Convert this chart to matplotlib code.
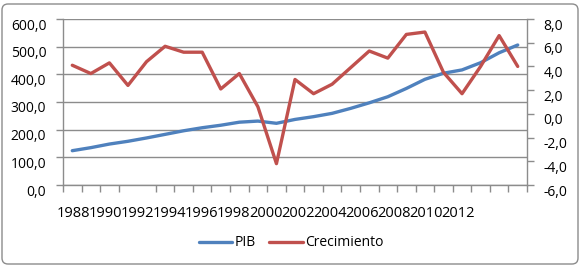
import matplotlib
matplotlib.use("Agg")
import matplotlib.pyplot as plt
import matplotlib.transforms as mtransforms
from matplotlib.patches import FancyBboxPatch
from matplotlib.ticker import FixedLocator, NullFormatter

years = list(range(1988, 2013))
pib = [124, 135, 148, 158, 170, 183, 196, 207, 216, 227, 231, 223, 237,
       247, 259, 277, 297, 319, 349, 382, 404, 416, 442, 478, 506]
crecimiento = [4.1, 3.4, 4.3, 2.4, 4.4, 5.7, 5.2, 5.2, 2.1, 3.4, 0.6, -4.2, 2.9,
               1.7, 2.5, 3.9, 5.3, 4.7, 6.7, 6.9, 3.5, 1.7, 4.0, 6.6, 4.0]
year_labels = [str(y) for y in years[::2]]
left_ticks = [0, 100, 200, 300, 400, 500, 600]
right_ticks = [-6, -4, -2, 0, 2, 4, 6, 8]

BLUE = "#4F81BD"
RED = "#C0504D"
GRID = "#8C8C8C"
FONT = "Open Sans"

plt.rcParams["font.family"] = [FONT, "DejaVu Sans"]
plt.rcParams["font.size"] = 10

W, H = 580, 268
fig = plt.figure(figsize=(W / 100, H / 100), dpi=100)
fig.patch.set_facecolor("white")

# outer rounded border
border = FancyBboxPatch((0.02, 0.04), 5.76, 2.60,
                        boxstyle="round,pad=0,rounding_size=0.06",
                        transform=fig.dpi_scale_trans, facecolor="none",
                        edgecolor="#8C8C8C", linewidth=1.0)
fig.patches.append(border)

ax = fig.add_axes([63 / W, 1 - 185 / H, 464 / W, 166 / H])
ax2 = ax.twinx()

x = list(range(len(years)))
l1, = ax.plot(x, pib, color=BLUE, linewidth=2.4, solid_capstyle="round",
              solid_joinstyle="round", label="PIB", zorder=3)
l2, = ax2.plot(x, crecimiento, color=RED, linewidth=2.4, solid_capstyle="round",
               solid_joinstyle="round", label="Crecimiento", zorder=4)

ax.set_xlim(-0.5, len(years) - 0.5)
ax.set_ylim(0, 600)
ax2.set_ylim(-6, 8)

ax.set_yticks(left_ticks)
ax.set_yticklabels([f"{v:.1f}".replace(".", ",") for v in left_ticks])
ax2.set_yticks(right_ticks)
ax2.set_yticklabels([f"{v:.1f}".replace(".", ",") for v in right_ticks])

# category boundary tick marks
ax.xaxis.set_minor_locator(FixedLocator([i - 0.5 for i in range(len(years) + 1)]))
ax.xaxis.set_minor_formatter(NullFormatter())
# year labels (packed as in the reference rendering)
label_step = 1.73
ax.set_xticks([0.04 + label_step * k for k in range(len(year_labels))])
ax.set_xticklabels(year_labels)
ax.tick_params(axis="x", which="major", length=0, pad=15, labelsize=10.5)
ax.tick_params(axis="x", which="minor", length=5, width=1, color=GRID, direction="out")

ax.tick_params(axis="y", length=5, width=1, color=GRID, pad=7, labelsize=10)
ax2.tick_params(axis="y", length=5, width=1, color=GRID, pad=7, labelsize=10)

ax.grid(axis="y", color=GRID, linewidth=1.0)
ax.set_axisbelow(True)

for a in (ax, ax2):
    for s in a.spines.values():
        s.set_color(GRID)
        s.set_linewidth(1.0)
    a.spines["top"].set_visible(False)
ax2.spines["bottom"].set_visible(False)
ax2.spines["left"].set_visible(False)
ax.spines["right"].set_visible(False)
ax2.spines["right"].set_color(GRID)

# shift y labels slightly down as in reference
off = mtransforms.ScaledTranslation(0, -5 / 100, fig.dpi_scale_trans)
for lab in ax.get_yticklabels() + ax2.get_yticklabels():
    lab.set_transform(lab.get_transform() + off)

fig.legend(handles=[l1, l2], labels=["PIB", "Crecimiento"],
           loc="center", bbox_to_anchor=(291 / W, 1 - 243 / H), ncol=2,
           frameon=False, handlelength=2.4, handletextpad=0.15,
           columnspacing=1.0, fontsize=10)

fig.savefig("out.png", dpi=100, facecolor="white")
